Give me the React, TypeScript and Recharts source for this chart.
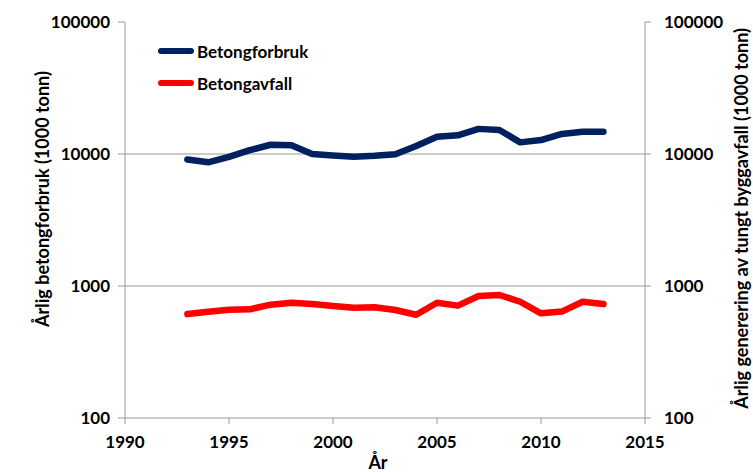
import React from "react";
import { LineChart, Line, XAxis, YAxis, ReferenceLine } from "recharts";

const years = [
  1993, 1994, 1995, 1996, 1997, 1998, 1999, 2000, 2001, 2002, 2003, 2004,
  2005, 2006, 2007, 2008, 2009, 2010, 2011, 2012, 2013,
];

// 1000 tonn
const betongforbruk = [
  9100, 8650, 9500, 10700, 11750, 11650, 10000, 9750, 9550, 9700, 9950, 11500,
  13500, 13850, 15500, 15200, 12250, 12750, 14200, 14750, 14750,
];

const betongavfall = [
  613, 639, 661, 666, 722, 747, 730, 706, 685, 690, 658, 606, 747, 710, 840,
  855, 760, 621, 640, 760, 730,
];

const xTicks = [1990, 1995, 2000, 2005, 2010, 2015];
const yTicks = [100, 1000, 10000, 100000];
const gridValues = [1000, 10000];

const FONT = "Lato, 'Liberation Sans', sans-serif";
const BLUE = "#002060";
const RED = "#FF0000";
const AXIS = "#999999";

const data = years.map((year, i) => ({
  year,
  forbruk: betongforbruk[i],
  avfall: betongavfall[i],
}));

const tickStyle = {
  fill: "#000",
  fontSize: 17,
  fontWeight: 700,
  fontFamily: FONT,
};

const legendItems = [
  { label: "Betongforbruk", color: BLUE },
  { label: "Betongavfall", color: RED },
];

// legend sits inside the plot area, top-left
const ChartLegend = () => (
  <div
    style={{
      position: "absolute",
      left: 158,
      top: 35,
      fontFamily: FONT,
      fontWeight: 700,
      fontSize: 17,
    }}
  >
    {legendItems.map((item) => (
      <div
        key={item.label}
        style={{ display: "flex", alignItems: "center", height: 32 }}
      >
        <span
          style={{
            display: "inline-block",
            width: 36,
            height: 6,
            borderRadius: 3,
            background: item.color,
            marginRight: 3,
          }}
        />
        <span style={{ color: "#000" }}>{item.label}</span>
      </div>
    ))}
  </div>
);

const leftTitle = () => (
  <text
    x={49}
    y={199}
    transform="rotate(-90 49 199)"
    textAnchor="middle"
    fontFamily={FONT}
    fontWeight={700}
    fontSize={18}
    fill="#000"
  >
    Årlig betongforbruk (1000 tonn)
  </text>
);

const rightTitle = () => (
  <text
    x={748}
    y={28}
    transform="rotate(-90 748 28)"
    textAnchor="end"
    fontFamily={FONT}
    fontWeight={700}
    fontSize={18}
    fill="#000"
  >
    Årlig generering av tungt byggavfall (1000 tonn)
  </text>
);

const bottomTitle = () => (
  <text
    x={378}
    y={469}
    textAnchor="middle"
    fontFamily={FONT}
    fontWeight={700}
    fontSize={18}
    fill="#000"
  >
    År
  </text>
);

export default function App() {
  return (
    <div style={{ position: "absolute", left: 0, top: 0, background: "#fff" }}>
      <LineChart
        width={753}
        height={472}
        data={data}
        margin={{ top: 22, right: 0, bottom: 0, left: 0 }}
      >
        <XAxis
          dataKey="year"
          type="number"
          domain={[1990, 2015]}
          ticks={xTicks}
          height={54}
          stroke={AXIS}
          tickSize={6}
          tickMargin={12}
          tick={tickStyle}
          label={{ content: bottomTitle }}
        />
        <YAxis
          yAxisId="left"
          scale="log"
          domain={[100, 100000]}
          ticks={yTicks}
          allowDataOverflow
          width={125}
          stroke={AXIS}
          tickSize={7}
          tickMargin={8}
          tick={tickStyle}
          label={{ content: leftTitle }}
        />
        <YAxis
          yAxisId="right"
          orientation="right"
          scale="log"
          domain={[100, 100000]}
          ticks={yTicks}
          allowDataOverflow
          width={108}
          stroke={AXIS}
          tickSize={6}
          tickMargin={13}
          tick={{ ...tickStyle, textAnchor: "start" }}
          label={{ content: rightTitle }}
        />
        {gridValues.map((v) => (
          <ReferenceLine key={v} yAxisId="left" y={v} stroke={AXIS} />
        ))}
        <Line
          yAxisId="left"
          dataKey="forbruk"
          name="Betongforbruk"
          stroke={BLUE}
          strokeWidth={6.5}
          strokeLinecap="round"
          strokeLinejoin="round"
          dot={false}
          isAnimationActive={false}
        />
        <Line
          yAxisId="right"
          dataKey="avfall"
          name="Betongavfall"
          stroke={RED}
          strokeWidth={6.5}
          strokeLinecap="round"
          strokeLinejoin="round"
          dot={false}
          isAnimationActive={false}
        />
      </LineChart>
      <ChartLegend />
    </div>
  );
}
